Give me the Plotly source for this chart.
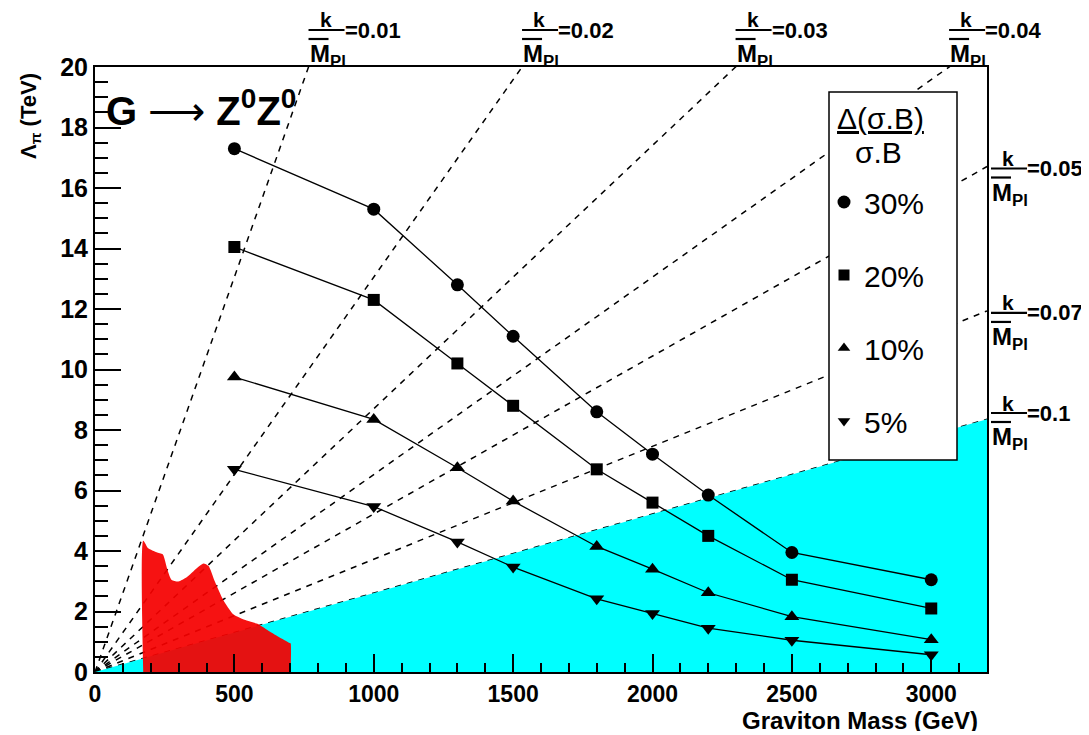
import plotly.graph_objects as go

# ---------------- data ----------------
MASS = [500, 1000, 1300, 1500, 1800, 2000, 2200, 2500, 3000]
LAMBDA_30 = [17.3, 15.3, 12.8, 11.1, 8.6, 7.2, 5.85, 3.95, 3.05]
LAMBDA_20 = [14.05, 12.3, 10.2, 8.8, 6.7, 5.6, 4.5, 3.05, 2.1]
LAMBDA_10 = [9.75, 8.35, 6.75, 5.65, 4.15, 3.4, 2.62, 1.83, 1.07]
LAMBDA_5 = [6.7, 5.47, 4.3, 3.47, 2.42, 1.93, 1.45, 1.05, 0.57]
SERIES_NAMES = ["30%", "20%", "10%", "5%"]
SERIES_SYMBOLS = ["circle", "square", "triangle-up", "triangle-down"]

# excluded region (red)
RED_M = [173, 173, 191, 221, 243, 260, 275, 299, 329, 365, 389, 407, 430, 460,
         496, 544, 586, 628, 700, 702, 702]
RED_L = [0, 4.34, 4.09, 3.96, 3.89, 3.37, 3.04, 2.99, 3.13, 3.43, 3.59, 3.51,
         2.99, 2.38, 1.91, 1.70, 1.58, 1.33, 0.95, 0.95, 0]

# k / M_Pl reference lines : Lambda_pi = m_G / (x1 * k)
K_VALUES = [0.01, 0.02, 0.03, 0.04, 0.05, 0.07, 0.1]
K_LABELS = ["=0.01", "=0.02", "=0.03", "=0.04", "=0.05", "=0.07", "=0.1"]
X1 = 3.83
M_MAX = 3200
L_MAX = 20

# ---------------- geometry helpers (screen pixels) ----------------
PAGE_OFF = 8                      # default body margin of the html page
FIG_W, FIG_H = 1089 - PAGE_OFF, 735 - PAGE_OFF
L, R, T, B = 95, 987, 67, 672     # plot area in screen pixels
PW, PH = R - L, B - T


def pxx(x):
    return (x - L) / PW


def pxy(y):
    return (B - y) / PH


FONT = "Liberation Sans, Arial, Helvetica, sans-serif"

fig = go.Figure()

# dashed theory lines
for k in K_VALUES:
    fig.add_trace(go.Scatter(
        x=[0, M_MAX], y=[0, M_MAX / (X1 * k) / 1000.0],
        mode="lines", line=dict(color="black", width=1.5, dash="6px,6px"),
        showlegend=False, hoverinfo="skip"))

# cyan region (below k/M_Pl = 0.1)
kmax = max(K_VALUES)
fig.add_trace(go.Scatter(
    x=[0, M_MAX], y=[0, M_MAX / (X1 * kmax) / 1000.0],
    mode="lines", line=dict(color="#00FFFF", width=0),
    fill="tozeroy", fillcolor="#00FFFF", showlegend=False, hoverinfo="skip"))

# red excluded region
fig.add_trace(go.Scatter(
    x=RED_M, y=RED_L, mode="lines",
    line=dict(color="rgba(255,0,0,0)", width=0, shape="spline", smoothing=0.6),
    fill="toself", fillcolor="rgba(245,0,0,0.93)", showlegend=False, hoverinfo="skip"))

# data series
for name, sym, vals in zip(SERIES_NAMES, SERIES_SYMBOLS,
                           [LAMBDA_30, LAMBDA_20, LAMBDA_10, LAMBDA_5]):
    fig.add_trace(go.Scatter(
        x=MASS, y=vals, mode="lines+markers",
        line=dict(color="black", width=1.3),
        marker=dict(symbol=sym, size=13 if sym != "square" else 12, color="black"),
        showlegend=False, hoverinfo="x+y"))

# legend-only entries (markers only)
for i, (name, sym) in enumerate(zip(SERIES_NAMES, SERIES_SYMBOLS)):
    fig.add_trace(go.Scatter(
        x=[None], y=[None], mode="markers", name=name,
        marker=dict(symbol=sym, size=13 if sym == "circle" else 11, color="black"),
        legendgroup=f"g{i}", showlegend=True))

shapes = []
annotations = []

# legend box
shapes.append(dict(type="rect", xref="paper", yref="paper",
                   x0=pxx(829), x1=pxx(957), y0=pxy(460), y1=pxy(92),
                   fillcolor="white", line=dict(color="black", width=1.5),
                   layer="above"))
annotations.append(dict(text="<u>\u0394(\u03c3.B)</u>", xref="paper", yref="paper",
                        x=pxx(880), y=pxy(118), xanchor="center", yanchor="middle",
                        showarrow=False, font=dict(family=FONT, size=30, color="black")))
annotations.append(dict(text="\u03c3.B", xref="paper", yref="paper",
                        x=pxx(878), y=pxy(152), xanchor="center", yanchor="middle",
                        showarrow=False, font=dict(family=FONT, size=30, color="black")))

# k / M_Pl labels
label_pos = []
for k, lab in zip(K_VALUES, K_LABELS):
    m_top = L_MAX * 1000.0 * X1 * k
    if m_top <= M_MAX:
        x0 = L + m_top / M_MAX * PW
        yl = 30
    else:
        lam = M_MAX / (X1 * k) / 1000.0
        x0 = 991
        yl = B - lam / L_MAX * PH + 2
        if k >= 0.1:
            yl = 413
    label_pos.append((x0, yl, lab))

for x0, yl, lab in label_pos:
    shapes.append(dict(type="line", xref="paper", yref="paper",
                       x0=pxx(x0), x1=pxx(x0 + 36), y0=pxy(yl), y1=pxy(yl),
                       line=dict(color="black", width=2.2)))
    shapes.append(dict(type="line", xref="paper", yref="paper",
                       x0=pxx(x0), x1=pxx(x0 + 20), y0=pxy(yl + 9), y1=pxy(yl + 9),
                       line=dict(color="black", width=2.2)))
    annotations.append(dict(text="<b>k</b>", xref="paper", yref="paper",
                            x=pxx(x0 + 17), y=pxy(yl - 10.5), xanchor="center", yanchor="middle",
                            height=18, valign="middle",
                            showarrow=False, font=dict(family=FONT, size=21, color="black")))
    annotations.append(dict(text="<b>M<sub>Pl</sub></b>", xref="paper", yref="paper",
                            x=pxx(x0 - 1), y=pxy(yl + 8), xanchor="left", yanchor="top",
                            showarrow=False, font=dict(family=FONT, size=24, color="black")))
    annotations.append(dict(text="<b>" + lab + "</b>", xref="paper", yref="paper",
                            x=pxx(x0 + 34), y=pxy(yl), xanchor="left", yanchor="middle",
                            showarrow=False, font=dict(family=FONT, size=22, color="black")))

# title inside plot
annotations.append(dict(text="<b>G</b> \u27f6 <b>Z<sup>0</sup>Z<sup>0</sup></b>",
                        xref="paper", yref="paper", x=pxx(104), y=pxy(108),
                        xanchor="left", yanchor="middle", showarrow=False,
                        font=dict(family=FONT, size=40, color="black")))

# axis titles
annotations.append(dict(text="<b>Graviton Mass (GeV)</b>", xref="paper", yref="paper",
                        x=pxx(980), y=pxy(720), xanchor="right", yanchor="middle",
                        height=22, valign="middle",
                        showarrow=False, font=dict(family=FONT, size=24, color="black")))
annotations.append(dict(text="<b>\u039b<sub>\u03c0</sub> (TeV)</b>", xref="paper", yref="paper",
                        x=pxx(30), y=pxy(116), xanchor="center", yanchor="middle",
                        textangle=-90, showarrow=False,
                        font=dict(family=FONT, size=22, color="black")))

fig.update_layout(
    width=FIG_W, height=FIG_H,
    margin=dict(l=L - PAGE_OFF, r=FIG_W - (R - PAGE_OFF), t=T - PAGE_OFF,
                b=FIG_H - (B - PAGE_OFF), pad=0),
    paper_bgcolor="white", plot_bgcolor="white",
    shapes=shapes, annotations=annotations,
    showlegend=True,
    legend=dict(
        x=pxx(824), y=pxy(176), xanchor="left", yanchor="top",
        bgcolor="rgba(0,0,0,0)", borderwidth=0,
        font=dict(family=FONT, size=30, color="black"),
        tracegroupgap=31, itemsizing="trace",
    ),
    xaxis=dict(
        range=[0, M_MAX], showgrid=False, zeroline=False,
        showline=True, linecolor="black", linewidth=2, mirror=True,
        ticks="inside", ticklen=18, tickwidth=1.5, tickcolor="black",
        tickmode="array", tickvals=[0, 500, 1000, 1500, 2000, 2500, 3000],
        ticktext=["0", "500", "1000", "1500", "2000", "2500", "3000"],
        minor=dict(ticks="inside", ticklen=9, tickwidth=1.5, tickcolor="black", dtick=100, tick0=0),
        tickfont=dict(family=FONT, size=23, color="black", weight="bold"),
    ),
    yaxis=dict(
        range=[0, L_MAX], showgrid=False, zeroline=False,
        showline=True, linecolor="black", linewidth=2, mirror=True,
        ticks="inside", ticklen=26, tickwidth=1.5, tickcolor="black",
        dtick=2, tick0=0,
        minor=dict(ticks="inside", ticklen=13, tickwidth=1.5, tickcolor="black", dtick=0.5, tick0=0),
        tickfont=dict(family=FONT, size=25, color="black", weight="bold"),
    ),
)

fig.write_html("out.html")
